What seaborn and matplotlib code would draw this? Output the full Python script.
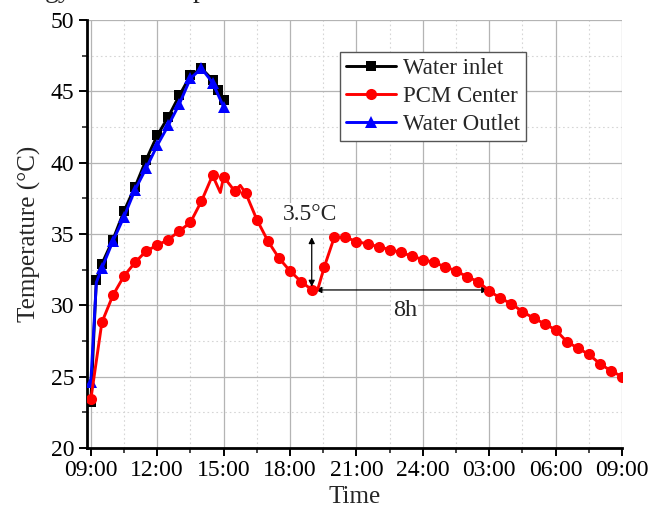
import numpy as np
import pandas as pd
import matplotlib
matplotlib.use("Agg")
import matplotlib.pyplot as plt
from matplotlib.ticker import MultipleLocator, FixedLocator, FixedFormatter
from matplotlib.lines import Line2D
import seaborn as sns

# ---------------- data ----------------
inlet_hours = [9.0, 9.25, 9.5, 10.0, 10.5, 11.0, 11.5, 12.0, 12.5, 13.0, 13.5, 14.0, 14.5, 14.75, 15.0]
inlet_temp = [23.2, 31.8, 32.9, 34.6, 36.6, 38.3, 40.2, 41.9, 43.2, 44.7, 46.1, 46.6, 45.8, 45.1, 44.4]

outlet_hours = [9.0, 9.25, 9.5, 10.0, 10.5, 11.0, 11.5, 12.0, 12.5, 13.0, 13.5, 14.0, 14.5, 15.0]
outlet_temp = [24.6, 31.6, 32.6, 34.5, 36.2, 38.1, 39.6, 41.2, 42.6, 44.1, 45.9, 46.6, 45.6, 43.9]

pcm_hours = [9.0, 9.5, 10.0, 10.5, 11.0, 11.5, 12.0, 12.5, 13.0, 13.5, 14.0, 14.5, 14.85, 15.0,
             15.5, 15.75, 16.0, 16.5, 17.0, 17.5, 18.0, 18.5, 19.0, 19.25, 19.55, 20.0, 20.5,
             21.0, 21.5, 22.0, 22.5, 23.0, 23.5, 24.0, 24.5, 25.0, 25.5, 26.0, 26.5, 27.0,
             27.5, 28.0, 28.5, 29.0, 29.5, 30.0, 30.5, 31.0, 31.5, 32.0, 32.5, 33.0]
pcm_temp = [23.4, 28.8, 30.7, 32.05, 33.0, 33.8, 34.2, 34.6, 35.2, 35.8, 37.3, 39.1, 37.9, 39.0,
            38.0, 38.4, 37.85, 36.0, 34.5, 33.3, 32.4, 31.65, 31.07, 31.1, 32.7, 34.77, 34.77,
            34.46, 34.3, 34.1, 33.9, 33.7, 33.45, 33.2, 33.0, 32.7, 32.4, 32.0, 31.65, 31.0,
            30.5, 30.1, 29.55, 29.1, 28.7, 28.27, 27.45, 27.0, 26.55, 25.9, 25.4, 25.0]

series_names = ["Water inlet", "PCM Center", "Water Outlet"]
series_colors = ["#000000", "#ff0000", "#0000ff"]
series_markers = ["s", "o", "^"]

xtick_hours = [9, 12, 15, 18, 21, 24, 27, 30, 33]
xtick_labels = ["09:00", "12:00", "15:00", "18:00", "21:00", "24:00", "03:00", "06:00", "09:00"]

# ---------------- style ----------------
sns.set_style("ticks")
plt.rcParams["font.family"] = ["Liberation Serif", "DejaVu Serif"]

fig = plt.figure(figsize=(6.48, 5.09), dpi=100)
ax = fig.add_axes([0.134, 0.120, 0.826, 0.841])

df_in = pd.DataFrame({"hour": inlet_hours, "temp": inlet_temp})
df_out = pd.DataFrame({"hour": outlet_hours, "temp": outlet_temp})
df_pcm = pd.DataFrame({"hour": pcm_hours, "temp": pcm_temp})

lw = 2.1
sns.lineplot(data=df_in, x="hour", y="temp", ax=ax, color=series_colors[0], lw=lw,
             marker="s", markersize=7, markeredgewidth=0, sort=False, zorder=3)
out_mark = [i for i in range(len(outlet_hours)) if i != 1]
sns.lineplot(data=df_out, x="hour", y="temp", ax=ax, color=series_colors[2], lw=lw,
             marker="^", markersize=8.5, markeredgewidth=0, markevery=out_mark, sort=False, zorder=4)
pcm_skip = {12, 15, 23}
pcm_mark = [i for i in range(len(pcm_hours)) if i not in pcm_skip]
sns.lineplot(data=df_pcm, x="hour", y="temp", ax=ax, color=series_colors[1], lw=lw,
             marker="o", markersize=8, markeredgewidth=0, markevery=pcm_mark, sort=False, zorder=5)

ax.set_xlim(8.82, 33.0)
ax.set_ylim(20, 50)
ax.xaxis.set_major_locator(FixedLocator(xtick_hours))
ax.xaxis.set_major_formatter(FixedFormatter(xtick_labels))
ax.xaxis.set_minor_locator(MultipleLocator(1.5))
ax.yaxis.set_major_locator(MultipleLocator(5))
ax.yaxis.set_minor_locator(MultipleLocator(2.5))

ax.grid(which="major", color="#b4b4b4", lw=0.9, ls="-")
ax.grid(which="minor", color="#d6d6d6", lw=0.8, ls=(0, (1.5, 2.5)))
ax.set_axisbelow(True)

for s in ["top", "right"]:
    ax.spines[s].set_visible(False)
for s in ["left", "bottom"]:
    ax.spines[s].set_linewidth(2.0)
    ax.spines[s].set_color("black")

ax.tick_params(which="major", direction="out", length=6, width=1.4, labelsize=17, colors="black", pad=3)
ax.tick_params(which="minor", direction="out", length=3.5, width=1.2)

ax.set_xlabel("Time", fontsize=18, labelpad=3)
ax.set_ylabel("Temperature (°C)", fontsize=18, labelpad=7)

# annotations
ax.annotate("", xy=(18.98, 34.77), xytext=(18.98, 31.3),
            arrowprops=dict(arrowstyle="<|-|>", color="black", lw=0.9,
                            mutation_scale=9, shrinkA=0, shrinkB=0), zorder=6)
ax.annotate("", xy=(19.15, 31.07), xytext=(26.95, 31.07),
            arrowprops=dict(arrowstyle="<|-|>", color="black", lw=0.9,
                            mutation_scale=9, shrinkA=0, shrinkB=0), zorder=2)
ax.text(18.92, 36.33, "3.5°C", fontsize=17, ha="center", va="center",
        bbox=dict(facecolor="white", edgecolor="none", pad=1), zorder=6)
ax.text(23.18, 29.6, "8h", fontsize=17.5, ha="center", va="center",
        bbox=dict(facecolor="white", edgecolor="none", pad=1), zorder=6)

# legend
handles = [Line2D([0], [0], color=c, lw=lw, marker=m, markersize=ms, markeredgewidth=0)
           for c, m, ms in zip(series_colors, series_markers, [7, 8, 8.5])]
leg = ax.legend(handles, series_names, loc="upper left", bbox_to_anchor=(0.473, 0.924),
                fontsize=16.5, frameon=True, fancybox=False, framealpha=1,
                edgecolor="#555555", handlelength=2.2, handletextpad=0.3,
                borderpad=0.25, labelspacing=0.3, borderaxespad=0)
leg.get_frame().set_linewidth(1.0)

# clipped caption fragment at top of the figure (as in the reference)
fig.text(45 / 648, 1 + 3 / 509, "gy", fontsize=20, ha="left", va="baseline")
fig.text(193 / 648, 1 + 3 / 509, "p", fontsize=20, ha="left", va="baseline")

fig.savefig("out.png", dpi=100)
